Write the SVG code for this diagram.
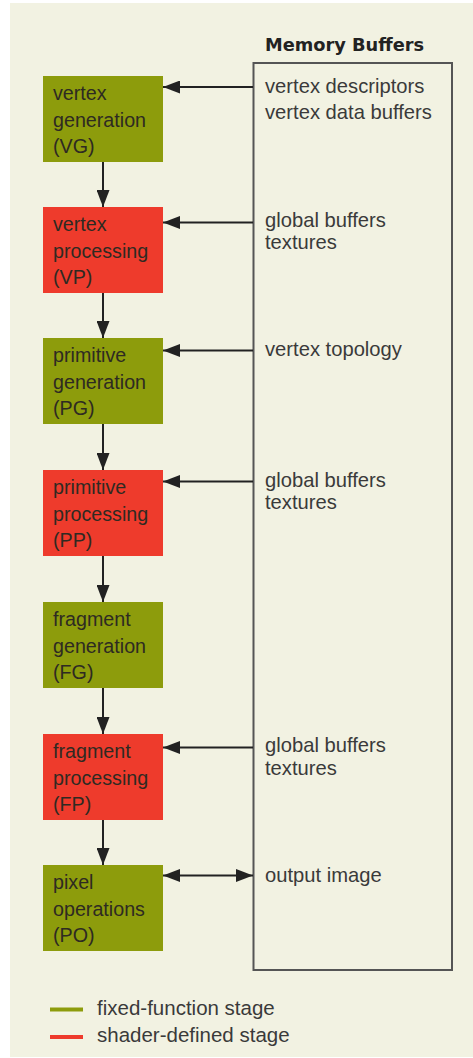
<svg xmlns="http://www.w3.org/2000/svg" width="473" height="1058" viewBox="0 0 473 1058">
  <style>
    .stage { stroke: none; }
    .fixed { fill: #8d9c0c; }
    .shader { fill: #ee3b2c; }
    .label { font-family: "Liberation Sans", Arial, sans-serif; font-size: 19.7px; fill: #2e2a22; }
    .buf { font-family: "Liberation Sans", Arial, sans-serif; font-size: 20.2px; fill: #3a3a3a; }
    .title { font-family: "DejaVu Sans", sans-serif; font-weight: bold; font-size: 17.8px; fill: #222; }
    .legend { font-family: "Liberation Sans", Arial, sans-serif; font-size: 20.5px; fill: #3a3a3a; }
    .conn { stroke: #222; stroke-width: 2; fill: none; }
  </style>
  <defs>
    <marker id="head" markerUnits="userSpaceOnUse" markerWidth="18" markerHeight="13" refX="17" refY="6.5" orient="auto-start-reverse">
      <path d="M0,0 L17,6.5 L0,13 Z" fill="#222"/>
    </marker>
  </defs>

  <!-- page background -->
  <rect x="0" y="0" width="473" height="1058" fill="#ffffff"/>
  <rect x="10" y="3" width="463" height="1054" fill="#f2f2e2"/>

  <!-- memory buffers panel -->
  <g id="memory-buffers">
    <text class="title" x="265" y="51">Memory Buffers</text>
    <rect x="253.5" y="63" width="198.5" height="907" fill="none" stroke="#555" stroke-width="2"/>
    <text class="buf" x="265" y="92.5">vertex descriptors</text>
    <text class="buf" x="265" y="119">vertex data buffers</text>
    <text class="buf" x="265" y="226.5">global buffers</text>
    <text class="buf" x="265" y="249">textures</text>
    <text class="buf" x="265" y="355.5">vertex topology</text>
    <text class="buf" x="265" y="486.5">global buffers</text>
    <text class="buf" x="265" y="509">textures</text>
    <text class="buf" x="265" y="752">global buffers</text>
    <text class="buf" x="265" y="774.5">textures</text>
    <text class="buf" x="265" y="881.5">output image</text>
  </g>

  <!-- pipeline stages -->
  <g id="vg">
    <rect class="stage fixed" x="43" y="76" width="120" height="86"/>
    <text class="label" x="53" y="100">vertex</text>
    <text class="label" x="53" y="126.5">generation</text>
    <text class="label" x="53" y="153">(VG)</text>
  </g>
  <g id="vp">
    <rect class="stage shader" x="43" y="207" width="120" height="86"/>
    <text class="label" x="53" y="231">vertex</text>
    <text class="label" x="53" y="257.5">processing</text>
    <text class="label" x="53" y="284">(VP)</text>
  </g>
  <g id="pg">
    <rect class="stage fixed" x="43" y="338" width="120" height="86"/>
    <text class="label" x="53" y="362">primitive</text>
    <text class="label" x="53" y="388.5">generation</text>
    <text class="label" x="53" y="415">(PG)</text>
  </g>
  <g id="pp">
    <rect class="stage shader" x="43" y="470" width="120" height="86"/>
    <text class="label" x="53" y="494">primitive</text>
    <text class="label" x="53" y="520.5">processing</text>
    <text class="label" x="53" y="547">(PP)</text>
  </g>
  <g id="fg">
    <rect class="stage fixed" x="43" y="602" width="120" height="86"/>
    <text class="label" x="53" y="626">fragment</text>
    <text class="label" x="53" y="652.5">generation</text>
    <text class="label" x="53" y="679">(FG)</text>
  </g>
  <g id="fp">
    <rect class="stage shader" x="43" y="734" width="120" height="86"/>
    <text class="label" x="53" y="758">fragment</text>
    <text class="label" x="53" y="784.5">processing</text>
    <text class="label" x="53" y="811">(FP)</text>
  </g>
  <g id="po">
    <rect class="stage fixed" x="43" y="865" width="120" height="86"/>
    <text class="label" x="53" y="889">pixel</text>
    <text class="label" x="53" y="915.5">operations</text>
    <text class="label" x="53" y="942">(PO)</text>
  </g>

  <!-- connectors -->
  <g id="connectors">
    <line class="conn" x1="103" y1="162" x2="103" y2="207" marker-end="url(#head)"/>
    <line class="conn" x1="103" y1="293" x2="103" y2="338" marker-end="url(#head)"/>
    <line class="conn" x1="103" y1="424" x2="103" y2="470" marker-end="url(#head)"/>
    <line class="conn" x1="103" y1="556" x2="103" y2="602" marker-end="url(#head)"/>
    <line class="conn" x1="103" y1="688" x2="103" y2="734" marker-end="url(#head)"/>
    <line class="conn" x1="103" y1="820" x2="103" y2="865" marker-end="url(#head)"/>

    <line class="conn" x1="253" y1="87" x2="163" y2="87" marker-end="url(#head)"/>
    <line class="conn" x1="253" y1="222.5" x2="163" y2="222.5" marker-end="url(#head)"/>
    <line class="conn" x1="253" y1="350.5" x2="163" y2="350.5" marker-end="url(#head)"/>
    <line class="conn" x1="253" y1="481.5" x2="163" y2="481.5" marker-end="url(#head)"/>
    <line class="conn" x1="253" y1="747.5" x2="163" y2="747.5" marker-end="url(#head)"/>
    <line class="conn" x1="163" y1="875.5" x2="253" y2="875.5" marker-start="url(#head)" marker-end="url(#head)"/>
  </g>

  <!-- legend -->
  <g id="legend">
    <rect x="50" y="1007.5" width="33" height="4" fill="#8d9c0c"/>
    <text class="legend" x="97" y="1015">fixed-function stage</text>
    <rect x="50" y="1035" width="33" height="4" fill="#ee3b2c"/>
    <text class="legend" x="97" y="1042">shader-defined stage</text>
  </g>
</svg>
